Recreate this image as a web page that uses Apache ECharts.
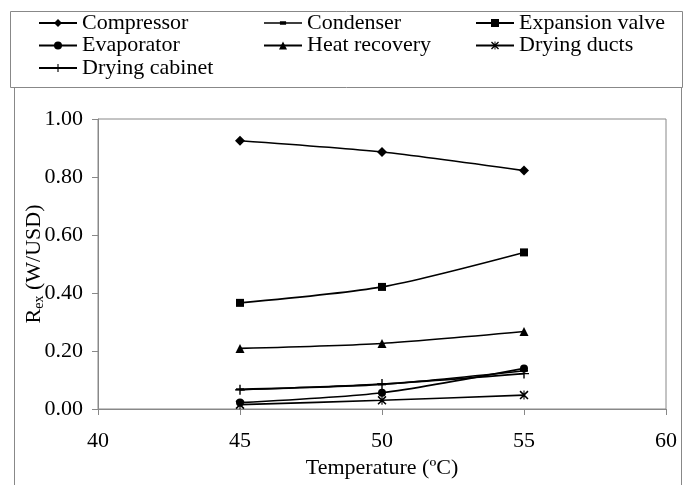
<!DOCTYPE html>
<html>
<head>
<meta charset="utf-8">
<script src="https://cdn.jsdelivr.net/npm/echarts@6/dist/echarts.min.js"></script>
<style>
  html, body { margin: 0; padding: 0; background: #fff; }
  #chart { width: 688px; height: 485px; }
</style>
</head>
<body>
<div id="chart"></div>
<script>
// data
const temps = [45, 50, 55];
const compressor = [0.925, 0.886, 0.822];
const condenser = [0.068, 0.085, 0.132];
const expansionValve = [0.366, 0.421, 0.540];
const evaporator = [0.022, 0.056, 0.140];
const heatRecovery = [0.209, 0.226, 0.267];
const dryingDucts = [0.015, 0.030, 0.048];
const dryingCabinet = [0.066, 0.086, 0.122];

const FONT = "Liberation Serif";
const plusPath = "path://M4.3,0H5.7V10H4.3Z M0,4.3H10V5.7H0Z";
const starPath = "path://M0,1.2L1.2,0L10,8.8L8.8,10Z M8.8,0L10,1.2L1.2,10L0,8.8Z M4.4,0H5.6V10H4.4Z";
// line with a short thick dash, for the condenser legend entry
const dashIcon = "path://M0,4.2H37V5.8H0Z M15.5,3.4H21.5V6.6H15.5Z";

function pairs(vals) {
  return temps.map((t, i) => [t, vals[i]]);
}

function makeSeries(name, vals, symbol, size) {
  return {
    name: name,
    type: "line",
    data: pairs(vals),
    symbol: symbol,
    symbolSize: size,
    smooth: 0.25,
    lineStyle: { color: "#000", width: 1.6 },
    itemStyle: { color: "#000" }
  };
}

function legendCol(left, names) {
  return {
    orient: "vertical",
    left: left,
    top: 12,
    padding: 0,
    itemWidth: 38,
    itemHeight: 10,
    itemGap: 0.5,
    data: names,
    textStyle: { fontFamily: FONT, fontSize: 22, lineHeight: 22, color: "#000" }
  };
}

const chart = echarts.init(document.getElementById("chart"));

chart.setOption({
  backgroundColor: "#fff",
  animation: false,
  graphic: [
    {
      type: "rect",
      shape: { x: 10.5, y: 11.5, width: 672, height: 76 },
      style: { fill: "none", stroke: "#888", lineWidth: 1 }
    },
    {
      type: "polyline",
      shape: { points: [[14.5, 87], [14.5, 485]] },
      style: { stroke: "#888", lineWidth: 1 }
    },
    {
      type: "polyline",
      shape: { points: [[681.5, 87], [681.5, 485]] },
      style: { stroke: "#888", lineWidth: 1 }
    }
  ],
  legend: [
    legendCol(38, ["Compressor", "Evaporator", "Drying cabinet"]),
    legendCol(263, [{ name: "Condenser", icon: dashIcon, itemStyle: { color: "#000" } }, "Heat recovery"]),
    legendCol(475, ["Expansion valve", "Drying ducts"])
  ],
  grid: {
    left: 98,
    right: 22,
    top: 119,
    bottom: 76,
    show: true,
    borderColor: "#888",
    borderWidth: 1
  },
  xAxis: {
    type: "value",
    min: 40,
    max: 60,
    interval: 5,
    name: "Temperature (ºC)",
    nameLocation: "middle",
    nameGap: 48,
    nameTextStyle: { fontFamily: FONT, fontSize: 22, color: "#000" },
    axisLine: { lineStyle: { color: "#888" } },
    axisTick: { show: true, inside: false, length: 6, lineStyle: { color: "#888" } },
    axisLabel: { fontFamily: FONT, fontSize: 22, color: "#000", margin: 21 },
    splitLine: { show: false }
  },
  yAxis: {
    type: "value",
    min: 0,
    max: 1,
    interval: 0.2,
    name: "{a|R}{b|ex}{a| (W/USD)}",
    nameLocation: "middle",
    nameGap: 52,
    nameMoveOverlap: false,
    nameTextStyle: {
      rich: {
        a: { fontFamily: FONT, fontSize: 22, color: "#000" },
        b: { fontFamily: FONT, fontSize: 14, color: "#000", verticalAlign: "bottom", padding: [10, 0, 0, 0] }
      }
    },
    axisLine: { show: true, lineStyle: { color: "#888" } },
    axisTick: { show: true, length: 6, lineStyle: { color: "#888" } },
    axisLabel: {
      fontFamily: FONT,
      fontSize: 22,
      color: "#000",
      margin: 15,
      formatter: v => v.toFixed(2)
    },
    splitLine: { show: false }
  },
  series: [
    makeSeries("Compressor", compressor, "diamond", 10),
    makeSeries("Condenser", condenser, "rect", [8, 2]),
    makeSeries("Expansion valve", expansionValve, "rect", 8),
    makeSeries("Evaporator", evaporator, "circle", 8),
    makeSeries("Heat recovery", heatRecovery, "triangle", 9),
    makeSeries("Drying ducts", dryingDucts, starPath, 9),
    makeSeries("Drying cabinet", dryingCabinet, plusPath, 10)
  ]
});
</script>
</body>
</html>
